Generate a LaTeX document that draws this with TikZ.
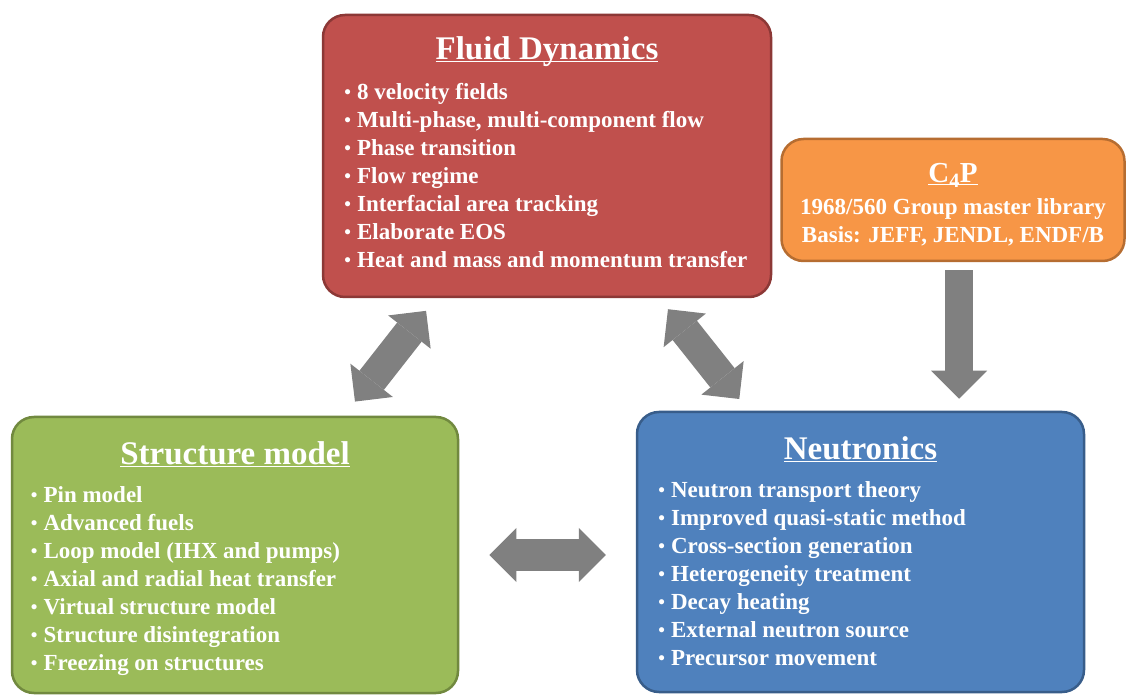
\documentclass[tikz,border=0pt]{standalone}
\usepackage{fontspec}
\setmainfont{Liberation Serif}
\usetikzlibrary{arrows.meta,positioning,calc}

\definecolor{fdred}{HTML}{C0504D}
\definecolor{fdredline}{HTML}{8C3836}
\definecolor{cporange}{HTML}{F79646}
\definecolor{cporangeline}{HTML}{B66D31}
\definecolor{smgreen}{HTML}{9BBB59}
\definecolor{smgreenline}{HTML}{71893F}
\definecolor{nublue}{HTML}{4F81BD}
\definecolor{nublueline}{HTML}{385D8A}
\definecolor{arrowgray}{HTML}{808080}

\newcommand{\ulhead}[1]{\underline{\smash{#1}}}
\newcommand{\itemdot}{\raisebox{1pt}{\fontsize{19}{19}\selectfont•}\hspace{6pt}}

\begin{document}
\begin{tikzpicture}[x=1pt,y=1pt,text=white,
  panel/.style={rectangle,rounded corners=22pt,line width=2.5pt,inner sep=0pt},
  heading/.style={font=\bfseries\fontsize{33}{38}\selectfont,text height=22pt,text depth=4pt,inner sep=0pt},
  entry/.style={anchor=west,font=\bfseries\fontsize{23}{27}\selectfont,text height=16pt,text depth=5pt,inner sep=0pt},
  twoway/.style={draw=arrowgray,line width=31pt,{Triangle[length=27pt,width=54pt,line width=0pt]}-{Triangle[length=27pt,width=54pt,line width=0pt]}},
  oneway/.style={draw=arrowgray,line width=28pt,-{Triangle[length=28pt,width=56pt,line width=0pt]}}]
\path[use as bounding box,fill=white] (0,0) rectangle (1126,696);

% boxes
\node[panel,fill=fdred,draw=fdredline,minimum width=448pt,minimum height=282pt] (fluid) at (547,540) {};
\node[panel,fill=cporange,draw=cporangeline,minimum width=343pt,minimum height=122pt] (c4p) at (953,496) {};
\node[panel,fill=smgreen,draw=smgreenline,minimum width=446pt,minimum height=276pt] (struct) at (235,141) {};
\node[panel,fill=nublue,draw=nublueline,minimum width=447pt,minimum height=280pt] (neutron) at (860.5,144) {};

% titles
\node[heading] (fluid-title) at ($(fluid.north)+(0,-37)$) {\ulhead{Fluid Dynamics}};
\node[heading,font=\bfseries\fontsize{29}{34}\selectfont] (c4p-title) at ($(c4p.north)+(0,-36)$) {\ulhead{C\textsubscript{4}P}};
\node[heading] (struct-title) at ($(struct.north)+(0,-40)$) {\ulhead{Structure model}};
\node[heading] (neutron-title) at ($(neutron.north)+(0,-40)$) {\ulhead{Neutronics}};

% lists
\foreach \txt [count=\i] in {8 velocity fields,{Multi-phase, multi-component flow},Phase transition,Flow regime,Interfacial area tracking,Elaborate EOS,Heat and mass and momentum transfer}
  \node[entry] (fluid-\i) at ($(fluid.north west)+(22.5,-52-28*\i)$) {\itemdot\txt};
\foreach \txt [count=\i] in {Pin model,Advanced fuels,Loop model (IHX and pumps),Axial and radial heat transfer,Virtual structure model,Structure disintegration,Freezing on structures}
  \node[entry] (struct-\i) at ($(struct.north west)+(20,-53-28*\i)$) {\itemdot\txt};
\foreach \txt [count=\i] in {Neutron transport theory,Improved quasi-static method,Cross-section generation,Heterogeneity treatment,Decay heating,External neutron source,Precursor movement}
  \node[entry] (neutron-\i) at ($(neutron.north west)+(22.5,-53-28*\i)$) {\itemdot\txt};
\node[entry,anchor=center] (c4p-1) at ($(c4p.north)+(0,-71)$) {1968/560 Group master library};
\node[entry,anchor=center] (c4p-2) at ($(c4p.north)+(0,-99)$) {Basis: JEFF, JENDL, ENDF/B};

% block arrows
\draw[twoway,shorten <=18pt,shorten >=16pt] (struct) -- (fluid);
\draw[twoway,shorten <=15pt,shorten >=14pt] (neutron) -- (fluid);
\draw[twoway,shorten <=30pt,shorten >=30pt] (struct.east) -- (struct.east -| neutron.west);
\draw[oneway,shorten <=8pt,shorten >=12pt] ([xshift=6pt]c4p.south) -- ([xshift=6pt]c4p.south |- neutron.north);
\end{tikzpicture}
\end{document}
